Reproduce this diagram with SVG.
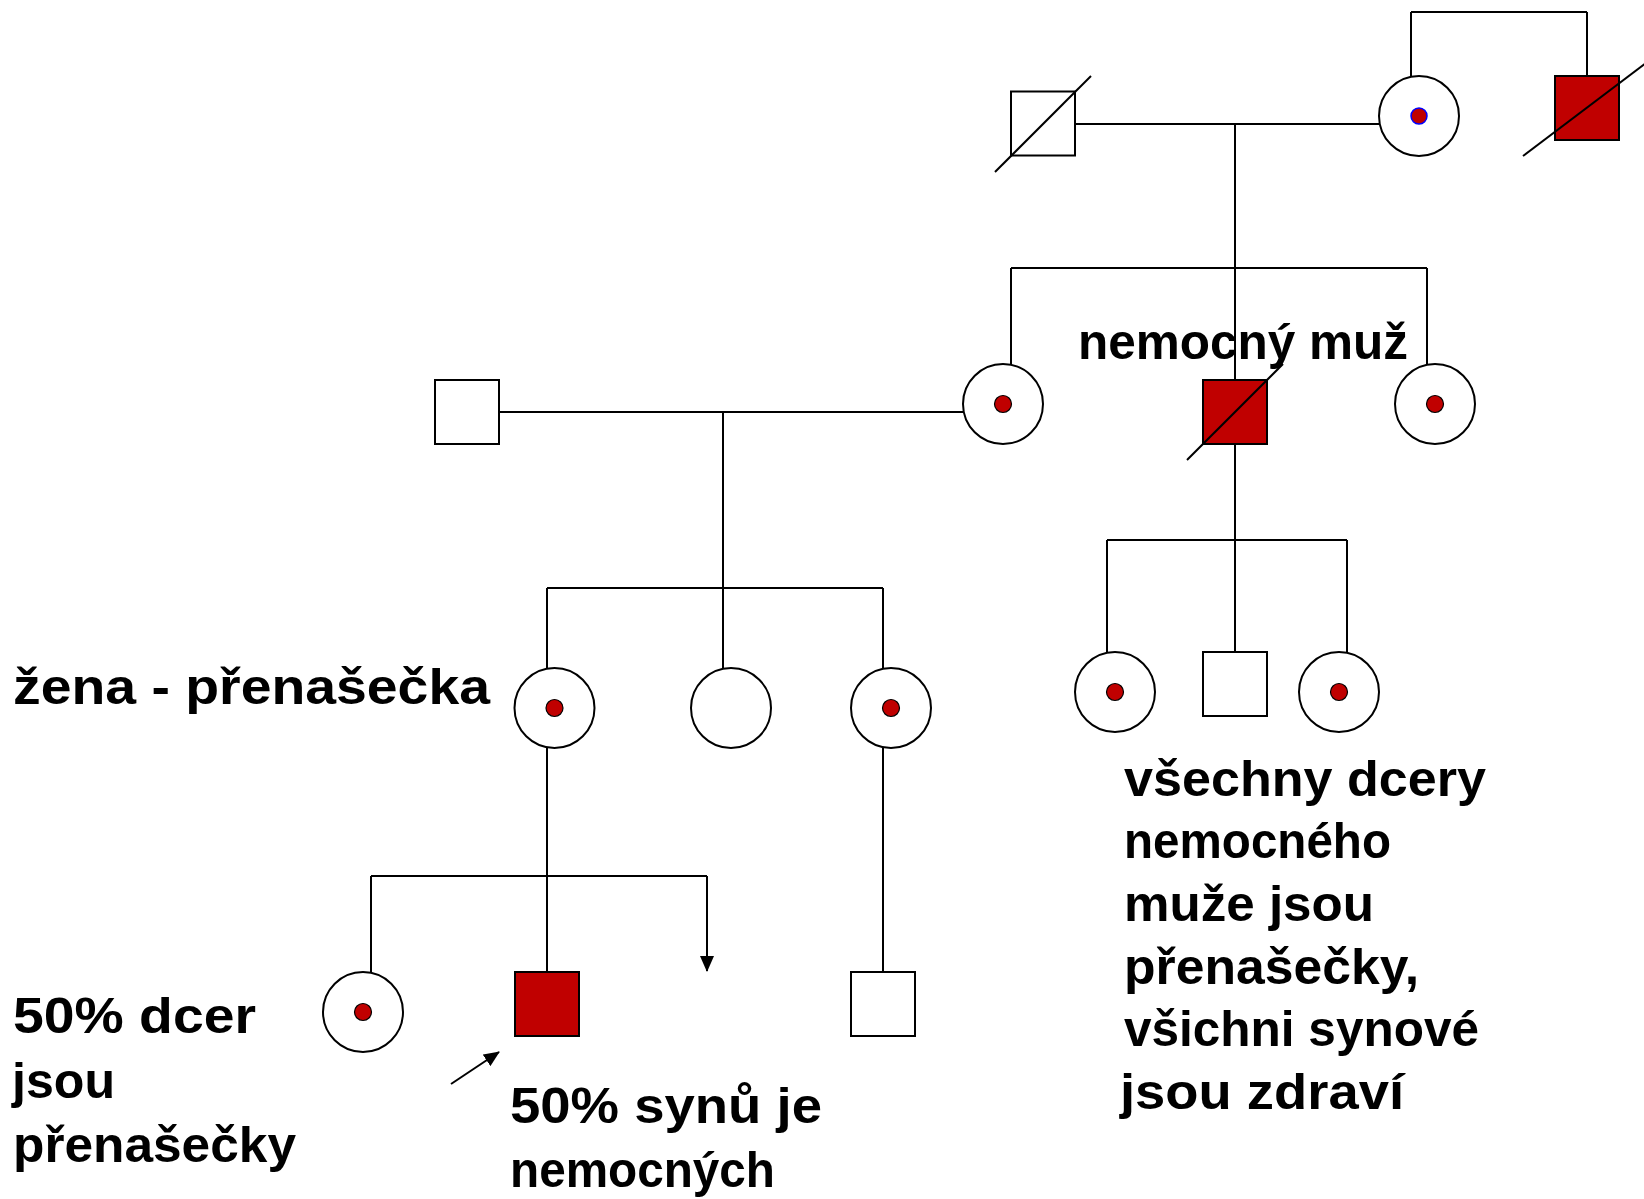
<svg xmlns="http://www.w3.org/2000/svg" width="1644" height="1199" viewBox="0 0 1644 1199">
<defs>
<style>
.ln{stroke:#000;stroke-width:2;fill:none}
.m{fill:#fff;stroke:#000;stroke-width:2}
.ma{fill:#C00000;stroke:#000;stroke-width:2}
.f{fill:#fff;stroke:#000;stroke-width:2}
.dot{fill:#C00000;stroke:#000;stroke-width:1.2}
.dotb{fill:#C00000;stroke:#0000FF;stroke-width:1.5}
.dead{stroke:#000;stroke-width:2}
.t{font-family:"Liberation Sans",Arial,sans-serif;font-weight:bold;font-size:50px;fill:#000}
</style>
<marker id="ah" markerWidth="16" markerHeight="14" refX="15" refY="7" orient="auto" markerUnits="userSpaceOnUse">
<path d="M0,0 L16,7 L0,14 Z" fill="#000"/>
</marker>
</defs>
<rect width="1644" height="1199" fill="#fff"/>
<g id="connectors">
<line class="ln" x1="1411" y1="12" x2="1587" y2="12"/>
<line class="ln" x1="1411" y1="12" x2="1411" y2="77"/>
<line class="ln" x1="1587" y1="12" x2="1587" y2="76"/>
<line class="ln" x1="1075" y1="124" x2="1380" y2="124"/>
<line class="ln" x1="1235" y1="124" x2="1235" y2="380"/>
<line class="ln" x1="1011" y1="268" x2="1427" y2="268"/>
<line class="ln" x1="1011" y1="268" x2="1011" y2="365"/>
<line class="ln" x1="1427" y1="268" x2="1427" y2="365"/>
<line class="ln" x1="499" y1="412" x2="963" y2="412"/>
<line class="ln" x1="723" y1="412" x2="723" y2="668"/>
<line class="ln" x1="547" y1="588" x2="883" y2="588"/>
<line class="ln" x1="547" y1="588" x2="547" y2="669"/>
<line class="ln" x1="883" y1="588" x2="883" y2="669"/>
<line class="ln" x1="1235" y1="444" x2="1235" y2="652"/>
<line class="ln" x1="1107" y1="540" x2="1347" y2="540"/>
<line class="ln" x1="1107" y1="540" x2="1107" y2="653"/>
<line class="ln" x1="1347" y1="540" x2="1347" y2="653"/>
<line class="ln" x1="547" y1="747" x2="547" y2="972"/>
<line class="ln" x1="883" y1="747" x2="883" y2="972"/>
<line class="ln" x1="371" y1="876" x2="707" y2="876"/>
<line class="ln" x1="371" y1="876" x2="371" y2="973"/>
<line class="ln" x1="707" y1="876" x2="707" y2="971" marker-end="url(#ah)"/>
<line class="ln" x1="451" y1="1084" x2="499" y2="1052" marker-end="url(#ah)"/>
</g>
<g id="grandfather">
<rect class="m" x="1011" y="91.5" width="64" height="64"/>
<line class="dead" x1="995" y1="172" x2="1091" y2="76"/>
</g>
<g id="grandmother">
<circle class="f" cx="1419" cy="116" r="40"/>
<circle class="dotb" cx="1419" cy="116" r="8"/>
</g>
<g id="great-uncle">
<rect class="ma" x="1555" y="76" width="64" height="64"/>
<line class="dead" x1="1523" y1="156" x2="1646" y2="63"/>
</g>
<g id="husband">
<rect class="m" x="435" y="380" width="64" height="64"/>
</g>
<g id="daughter1">
<circle class="f" cx="1003" cy="404" r="40"/>
<circle class="dot" cx="1003" cy="404" r="8.5"/>
</g>
<g id="affected-man">
<rect class="ma" x="1203" y="380" width="64" height="64"/>
<line class="dead" x1="1187" y1="460" x2="1283" y2="364"/>
</g>
<g id="daughter2">
<circle class="f" cx="1435" cy="404" r="40"/>
<circle class="dot" cx="1435" cy="404" r="8.5"/>
</g>
<g id="gd1">
<circle class="f" cx="554.5" cy="708" r="40"/>
<circle class="dot" cx="554.5" cy="708" r="8.5"/>
</g>
<g id="gd2">
<circle class="f" cx="731" cy="708" r="40"/>
</g>
<g id="gd3">
<circle class="f" cx="891" cy="708" r="40"/>
<circle class="dot" cx="891" cy="708" r="8.5"/>
</g>
<g id="rd1">
<circle class="f" cx="1115" cy="692" r="40"/>
<circle class="dot" cx="1115" cy="692" r="8.5"/>
</g>
<g id="rs1">
<rect class="m" x="1203" y="652" width="64" height="64"/>
</g>
<g id="rd2">
<circle class="f" cx="1339" cy="692" r="40"/>
<circle class="dot" cx="1339" cy="692" r="8.5"/>
</g>
<g id="ggd">
<circle class="f" cx="363" cy="1012" r="40"/>
<circle class="dot" cx="363" cy="1012" r="8.5"/>
</g>
<g id="ggs-affected">
<rect class="ma" x="515" y="972" width="64" height="64"/>
</g>
<g id="ggs">
<rect class="m" x="851" y="972" width="64" height="64"/>
</g>
<g id="labels">
<text class="t" x="1078" y="359" textLength="330" lengthAdjust="spacingAndGlyphs">nemocný muž</text>
<text class="t" x="13" y="704" textLength="477" lengthAdjust="spacingAndGlyphs">žena - přenašečka</text>
<text class="t" x="13" y="1033" textLength="243" lengthAdjust="spacingAndGlyphs">50% dcer</text>
<text class="t" x="12" y="1098" textLength="103" lengthAdjust="spacingAndGlyphs">jsou</text>
<text class="t" x="13" y="1162" textLength="283" lengthAdjust="spacingAndGlyphs">přenašečky</text>
<text class="t" x="510" y="1123" textLength="312" lengthAdjust="spacingAndGlyphs">50% synů je</text>
<text class="t" x="510" y="1187" textLength="265" lengthAdjust="spacingAndGlyphs">nemocných</text>
<text class="t" x="1124" y="796" textLength="362" lengthAdjust="spacingAndGlyphs">všechny dcery</text>
<text class="t" x="1124" y="858" textLength="267" lengthAdjust="spacingAndGlyphs">nemocného</text>
<text class="t" x="1124" y="921" textLength="250" lengthAdjust="spacingAndGlyphs">muže jsou</text>
<text class="t" x="1124" y="984" textLength="295" lengthAdjust="spacingAndGlyphs">přenašečky,</text>
<text class="t" x="1124" y="1046" textLength="355" lengthAdjust="spacingAndGlyphs">všichni synové</text>
<text class="t" x="1120" y="1109" textLength="284" lengthAdjust="spacingAndGlyphs">jsou zdraví</text>
</g>
</svg>
